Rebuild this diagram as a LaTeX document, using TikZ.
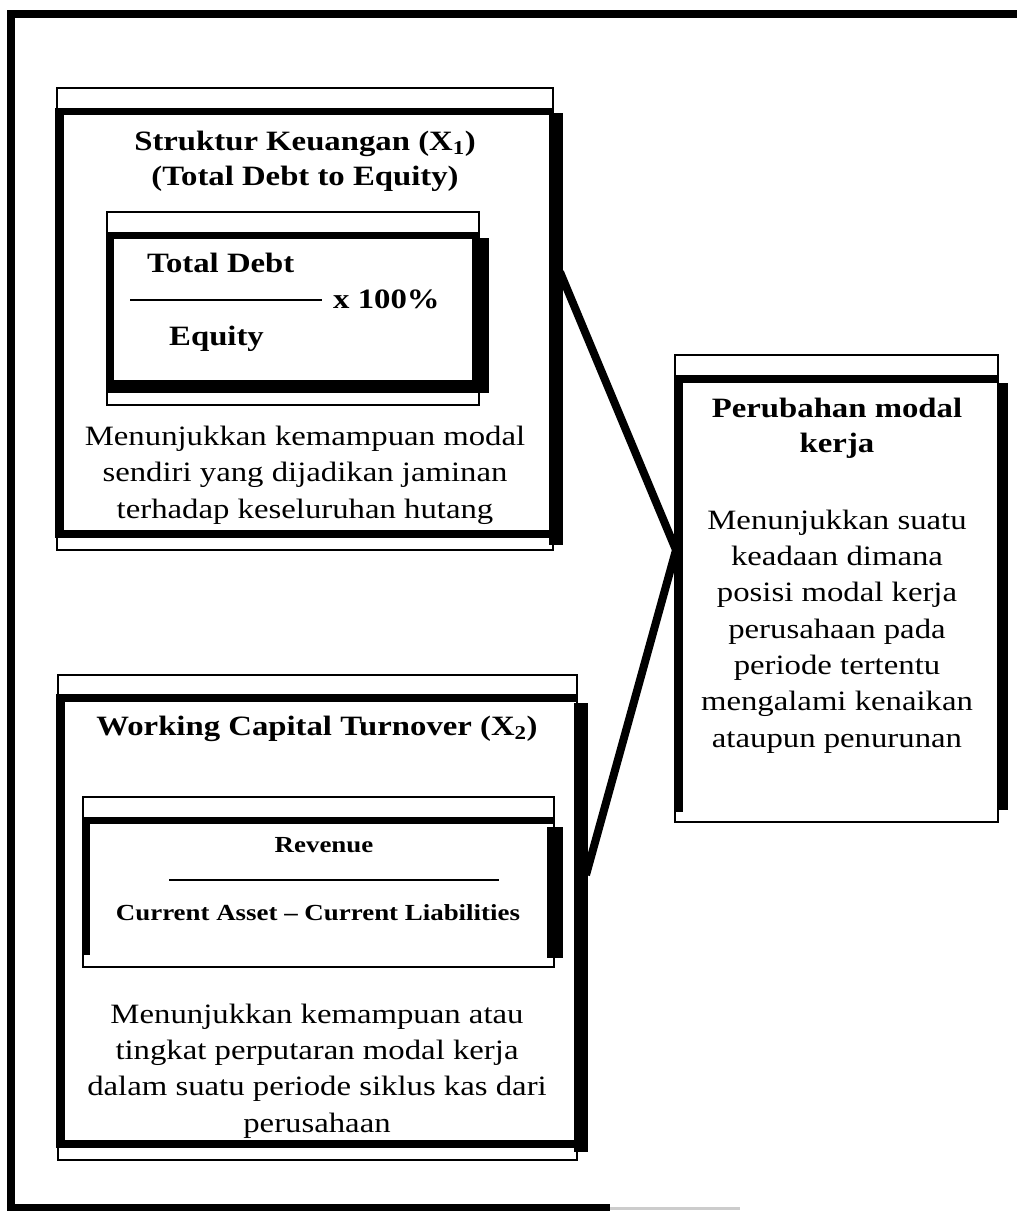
\documentclass[tikz,border=0pt]{standalone}
\usepackage{fontspec}
\setmainfont{Liberation Serif}[FakeStretch=1.17]
\begin{document}
\begin{tikzpicture}[x=1pt,y=-1pt,
  thinbox/.style={draw=black, line width=2pt, fill=white, inner sep=0pt, outer sep=0pt},
  conn/.style={line width=8pt, line join=miter},
  rulebar/.style={line width=2.6pt},
  titletxt/.style={inner sep=0pt, align=center, font=\bfseries\fontsize{28}{35}\selectfont},
  bodytxt/.style={inner sep=0pt, align=center, font=\fontsize{28}{36.3}\selectfont},
  formtxt/.style={inner sep=0pt, font=\bfseries\fontsize{28}{30}\selectfont},
  smallform/.style={inner sep=0pt, font=\bfseries\fontsize{23}{26}\selectfont}]
\useasboundingbox (0,0) rectangle (1017,1211);
\fill[white] (0,0) rectangle (1017,1211);
% outer frame
\coordinate (o1) at (1040,14);
\coordinate (o2) at (11,14);
\coordinate (o3) at (11,1208);
\coordinate (o4) at (610,1208);
\coordinate (o5) at (740,1208);
\draw[line width=7.5pt] (o1) -- (o2) -- (o3) -- (o4);
\draw[line width=3pt, black!20] (o4) -- (o5);

% connectors
\coordinate (c1) at (560,272);
\coordinate (v) at (676,550);
\coordinate (c2) at (586,875);
\draw[conn] (c1) -- (v) -- (c2);

% ---------- Box 1 ----------
\node[thinbox, minimum width=496pt, minimum height=462pt] (b1) at (305,319) {};
\fill (55,108) rectangle (553,115);
\fill (55,108) rectangle (64,538);
\fill (55,530) rectangle (549,538);
\fill (549,113) rectangle (563,545);
\node[titletxt, anchor=base] (t1) at (305,185) {Struktur Keuangan (X\textsubscript{1})\\(Total Debt to Equity)};
% formula box 1
\node[thinbox, minimum width=372pt, minimum height=193pt] (f1) at (293,308.5) {};
\fill (106,231.5) rectangle (479,238.5);
\fill (106,231.5) rectangle (114,393);
\fill (106,380) rectangle (476,393);
\fill (472,238) rectangle (489,393);
\node[formtxt, anchor=base west] (f1n) at (147,272) {Total Debt};
\coordinate (r1a) at (130,300);
\coordinate (r1b) at (322,300);
\draw[rulebar] (r1a) -- (r1b);
\node[formtxt, anchor=base west] (f1x) at (333,308) {x 100\%};
\node[formtxt, anchor=base west] (f1d) at (169,345) {Equity};
\node[bodytxt, anchor=base] (d1) at (305,518) {Menunjukkan kemampuan modal\\sendiri yang dijadikan jaminan\\terhadap keseluruhan hutang};

% ---------- Box 2 ----------
\node[thinbox, minimum width=519pt, minimum height=485pt] (b2) at (317.5,917.5) {};
\fill (56,693.5) rectangle (577,701.5);
\fill (56,693.5) rectangle (65,1148);
\fill (56,1140) rectangle (574,1148);
\fill (574,703) rectangle (588,1152);
\node[titletxt, anchor=base] (t2) at (317,735) {Working Capital Turnover (X\textsubscript{2})};
% formula box 2
\node[thinbox, minimum width=471pt, minimum height=170pt] (f2) at (318.5,882) {};
\fill (82,816.5) rectangle (554,823.5);
\fill (82,816.5) rectangle (90,955);
\fill (547,827) rectangle (563,958);
\node[smallform, anchor=base] (f2n) at (324,852) {Revenue};
\coordinate (r2a) at (169,880);
\coordinate (r2b) at (499,880);
\draw[rulebar] (r2a) -- (r2b);
\node[smallform, anchor=base] (f2d) at (318,920) {Current Asset -- Current Liabilities};
\node[bodytxt, anchor=base] (d2) at (317,1132) {Menunjukkan kemampuan atau\\tingkat perputaran modal kerja\\dalam suatu periode siklus kas dari\\perusahaan};

% ---------- Box 3 ----------
\node[thinbox, minimum width=323pt, minimum height=467pt] (b3) at (836.5,588.5) {};
\fill (674,375) rectangle (998,383);
\fill (674,375) rectangle (683,812);
\fill (997,383) rectangle (1008,810);
\node[titletxt, anchor=base] (t3) at (837,452) {Perubahan modal\\kerja};
\node[bodytxt, anchor=base] (d3) at (837,747) {Menunjukkan suatu\\keadaan dimana\\posisi modal kerja\\perusahaan pada\\periode tertentu\\mengalami kenaikan\\ataupun penurunan};
\end{tikzpicture}
\end{document}
